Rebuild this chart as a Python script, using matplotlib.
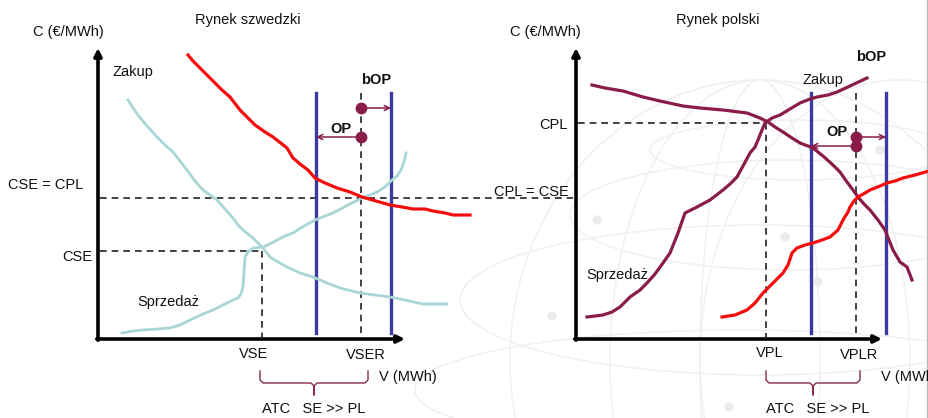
import numpy as np
import matplotlib
matplotlib.use("Agg")
import matplotlib.pyplot as plt
from matplotlib.patches import Ellipse, Circle

plt.rcParams['font.family'] = ['Liberation Sans', 'DejaVu Sans']

# ---- data (pixel units of the 929x418 canvas) ----
# Swedish market
se_buy_red_x = [188, 193, 200, 210, 222, 230, 240, 255, 265, 273, 282, 287, 293, 300, 308, 315, 325, 337, 350, 362, 376, 390, 402, 413, 425, 433, 445, 453, 462, 470]
se_buy_red_y = [55, 61, 68, 78, 90, 97, 110, 125, 132, 137, 144, 148, 158, 164, 170, 178, 183, 188, 192, 197, 201, 205, 207, 209, 209, 211, 213, 215, 215, 215]
se_dem_x = [128, 133, 138, 147, 157, 165, 173, 180, 187, 195, 203, 210, 217, 225, 233, 238, 243, 248, 253, 258, 263, 270, 278, 287, 300, 313, 320, 327, 340, 360, 375, 390, 405, 423, 435, 447]
se_dem_y = [100, 108, 115, 126, 137, 145, 152, 161, 170, 181, 190, 195, 200, 209, 218, 225, 230, 234, 238, 243, 248, 257, 262, 267, 273, 277, 280, 283, 288, 293, 295, 297, 300, 304, 304, 304]
se_sup_x = [122, 133, 143, 158, 170, 180, 190, 203, 213, 223, 233, 238, 241, 243, 244, 245, 248, 253, 263, 270, 277, 285, 293, 304, 315, 325, 333, 348, 362, 370, 377, 385, 392, 397, 401, 404, 406]
se_sup_y = [333, 331, 330, 329, 328, 325, 320, 314, 310, 305, 300, 298, 294, 287, 272, 257, 252, 248, 247, 244, 240, 236, 233, 226, 220, 216, 213, 205, 198, 195, 192, 187, 180, 176, 170, 162, 153]
# Polish market
pl_dem_x = [592, 605, 623, 643, 660, 683, 700, 723, 747, 760, 768, 775, 783, 792, 800, 813, 823, 833, 840, 847, 853, 858, 864, 870, 878, 885, 889, 893, 900, 907, 912]
pl_dem_y = [85, 88, 91, 97, 101, 106, 108, 110, 113, 118, 122, 127, 132, 138, 143, 148, 156, 165, 172, 182, 190, 197, 204, 210, 220, 230, 240, 250, 262, 267, 280]
pl_sup_x = [587, 603, 612, 620, 630, 640, 647, 655, 663, 670, 678, 685, 697, 710, 723, 730, 737, 743, 750, 755, 758, 762, 765, 772, 780, 790, 800, 810, 817, 828, 837, 850, 867]
pl_sup_y = [317, 315, 312, 307, 297, 290, 283, 274, 263, 253, 233, 213, 207, 200, 190, 184, 177, 166, 153, 147, 140, 130, 123, 118, 115, 109, 103, 99, 97, 95, 92, 86, 78]
pl_sup_red_x = [722, 735, 747, 755, 763, 773, 783, 788, 792, 797, 805, 813, 822, 830, 838, 843, 848, 850, 854, 858, 865, 870, 880, 887, 895, 903, 915, 929]
pl_sup_red_y = [317, 315, 310, 303, 293, 283, 273, 265, 253, 248, 245, 243, 240, 237, 230, 220, 212, 207, 201, 197, 193, 190, 186, 183, 181, 178, 175, 171]

# axis frames: (x0, y0, x_tip, y_tip)
axes_frames = [(98, 339, 405, 48), (576, 339, 882, 48)]
labels_fs = 10.5

fig = plt.figure(figsize=(9.29, 4.18), dpi=100)
ax = fig.add_axes([0, 0, 1, 1])
ax.set_xlim(0, 929)
ax.set_ylim(418, 0)
ax.axis('off')

# ---- faint globe watermark ----
gcol = '#f0f0f0'
for (cx, cy, w, h) in [(790, 215, 440, 110), (760, 300, 600, 150), (740, 390, 650, 120), (800, 150, 300, 60)]:
    ax.add_patch(Ellipse((cx, cy), w, h, fill=False, ec=gcol, lw=1.1, zorder=0))
for (cx, cy, w, h) in [(760, 360, 500, 560), (760, 360, 300, 560), (760, 360, 120, 560), (900, 360, 400, 560)]:
    ax.add_patch(Ellipse((cx, cy), w, h, fill=False, ec=gcol, lw=1.1, zorder=0))
for (px, py) in [(597, 220), (552, 316), (785, 237), (880, 150), (818, 282), (729, 407)]:
    ax.add_patch(Circle((px, py), 4, color='#ececec', zorder=0))

# ---- axes with arrows ----
for (x0, y0, xt, yt) in axes_frames:
    ax.annotate('', xy=(x0, yt), xytext=(x0, y0 + 1.2),
                arrowprops=dict(arrowstyle='-|>', lw=2.6, color='black', mutation_scale=11, shrinkA=0, shrinkB=0))
    ax.annotate('', xy=(xt, y0), xytext=(x0 - 1.2, y0),
                arrowprops=dict(arrowstyle='-|>', lw=2.6, color='black', mutation_scale=11, shrinkA=0, shrinkB=0))

dash = dict(color='#222222', lw=1.2, dashes=(4, 3), zorder=2)
# dashed guides
ax.plot([100, 573], [198, 198], **dash)
ax.plot([100, 262], [251, 251], **dash)
ax.plot([262, 262], [251, 337], **dash)
ax.plot([361, 361], [93, 333], **dash)
ax.plot([578, 766], [123, 123], **dash)
ax.plot([766, 766], [123, 337], **dash)
ax.plot([856, 856], [93, 333], **dash)

# blue ATC limits
blue = '#3a3aa0'
for xb in [316, 391, 811, 886]:
    ax.plot([xb, xb], [93, 333], color=blue, lw=2.4, zorder=3)

# curves
ax.plot(se_dem_x, se_dem_y, color='#a8d6d6', lw=2.0, zorder=4)
ax.plot(se_sup_x, se_sup_y, color='#a8d6d6', lw=2.0, zorder=4)
ax.plot(se_buy_red_x, se_buy_red_y, color='#f50d0d', lw=2.3, zorder=5)
maroon = '#8a1c4a'
ax.plot(pl_dem_x, pl_dem_y, color=maroon, lw=2.3, zorder=4)
ax.plot(pl_sup_x, pl_sup_y, color=maroon, lw=2.3, zorder=4)
ax.plot(pl_sup_red_x, pl_sup_red_y, color='#f50d0d', lw=2.3, zorder=5)

# OP / bOP arrows and dots
arrows = [((361, 108), (391, 108)), ((361, 137), (316, 137)),
          ((856, 137), (886, 137)), ((856, 146), (811, 146))]
for (a, b) in arrows:
    ax.annotate('', xy=b, xytext=a,
                arrowprops=dict(arrowstyle='->', lw=1.1, color=maroon, mutation_scale=9, shrinkA=0, shrinkB=0), zorder=6)
    ax.plot(*a, 'o', color=maroon, ms=7.5, zorder=7)

# braces
def brace(x0, x1, ytop, ybot, ymid):
    xm = (x0 + x1) / 2
    xs = [x0, x0, x0 + 3, xm - 3, xm, xm, xm, xm + 3, x1 - 3, x1, x1]
    ys = [ytop, ybot - 3, ybot, ybot, ybot + 3, ymid, ybot + 3, ybot, ybot, ybot - 3, ytop]
    ax.plot(xs, ys, color='#8a2a50', lw=1.0, zorder=3)

brace(260, 368, 371, 383, 395)
brace(766, 860, 371, 383, 395)

# texts
fs = labels_fs
t = dict(fontsize=fs, color='#111111')
ax.text(248, 20, 'Rynek szwedzki', ha='center', va='center', **t)
ax.text(718, 20, 'Rynek polski', ha='center', va='center', **t)
ax.text(68, 32, 'C (€/MWh)', ha='center', va='center', **t)
ax.text(545, 32, 'C (€/MWh)', ha='center', va='center', **t)
ax.text(113, 72, 'Zakup', ha='left', va='center', **t)
ax.text(823, 80, 'Zakup', ha='center', va='center', **t)
ax.text(83, 185, 'CSE = CPL', ha='right', va='center', **t)
ax.text(92, 257, 'CSE', ha='right', va='center', **t)
ax.text(568, 125, 'CPL', ha='right', va='center', **t)
ax.text(569, 192, 'CPL = CSE', ha='right', va='center', **t)
ax.text(137, 302, 'Sprzedaż', ha='left', va='center', **t)
ax.text(586, 275, 'Sprzedaż', ha='left', va='center', **t)
ax.text(254, 354, 'VSE', ha='center', va='center', **t)
ax.text(366, 355, 'VSER', ha='center', va='center', **t)
ax.text(770, 353, 'VPL', ha='center', va='center', **t)
ax.text(859, 355, 'VPLR', ha='center', va='center', **t)
ax.text(379, 377, 'V (MWh)', ha='left', va='center', **t)
ax.text(881, 377, 'V (MWh)', ha='left', va='center', **t)
ax.text(314, 409, 'ATC   SE >> PL', ha='center', va='center', **t)
ax.text(818, 409, 'ATC   SE >> PL', ha='center', va='center', **t)
ax.text(376, 80, 'bOP', ha='center', va='center', fontweight='bold', **t)
ax.text(341, 129, 'OP', ha='center', va='center', fontweight='bold', **t)
ax.text(871, 57, 'bOP', ha='center', va='center', fontweight='bold', **t)
ax.text(837, 132, 'OP', ha='center', va='center', fontweight='bold', **t)

# thin right border
ax.plot([927.5, 927.5], [0, 418], color='#bbbbbb', lw=1.0)

fig.savefig('out.png', dpi=100)
